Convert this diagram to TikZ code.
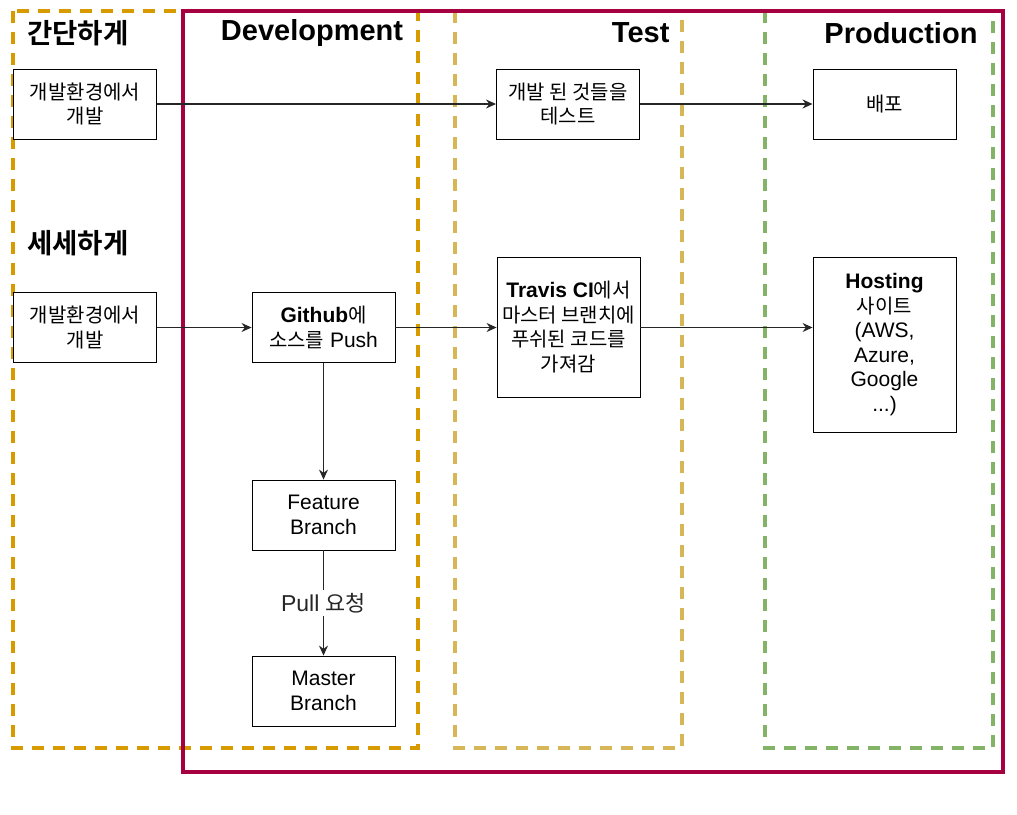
\documentclass[tikz,border=0pt]{standalone}
\usepackage{fontspec}
\setmainfont{Liberation Sans}
\newfontfamily\kr{Noto Sans CJK KR}[Scale=0.95, BoldFont={Noto Sans CJK KR Bold}]
\usetikzlibrary{arrows.meta}

\definecolor{devorange}{HTML}{D79B00}
\definecolor{testyellow}{HTML}{D6B656}
\definecolor{prodgreen}{HTML}{82B366}
\definecolor{crimson}{HTML}{A50040}

\newcommand{\ko}[1]{{\kr #1}}

\tikzset{
    stagebox/.style = {dash pattern=on 12pt off 9pt, line width=3.5pt},
    procbox/.style = {draw, fill=white, line width=0.9pt, inner sep=0pt,
        minimum width=143pt, minimum height=70pt, align=center,
        font=\fontsize{21}{24.5}\selectfont},
    title/.style = {font=\fontsize{29}{32}\selectfont\bfseries},
    flow/.style = {-{Stealth[length=10pt,width=9pt]}, line width=1.3pt, black!85}
}

\begin{document}
\begin{tikzpicture}[x=1pt, y=-1pt]
    \useasboundingbox (0,0) rectangle (1017,814);

    % stages
    \draw[stagebox, devorange] (13,11) rectangle (418,748);
    \draw[stagebox, testyellow] (455,11) rectangle (682,748);
    \draw[stagebox, prodgreen] (765,11) rectangle (993,748);
    \draw[crimson, line width=4.5pt] (183,11) rectangle (1003,772);

    % titles
    \node[title] (simple) at (78,33) {\ko{간단하게}};
    \node[title] (detail) at (78,243) {\ko{세세하게}};
    \node[title] (dev) at (312,33) {Development};
    \node[title, anchor=east] (test) at (673,33) {Test};
    \node[title, anchor=east] (prod) at (981,33) {Production};

    % simple flow
    \node[procbox] (local1) at (85,104) {\ko{개발환경에서}\\\ko{개발}};
    \node[procbox] (check) at (568,104) {\ko{개발 된 것들을}\\\ko{테스트}};
    \node[procbox] (deploy) at (884.5,104) {\ko{배포}};

    % detailed flow
    \node[procbox] (local2) at (85,327.5) {\ko{개발환경에서}\\\ko{개발}};
    \node[procbox] (github) at (323.5,327.5) {\textbf{Github}\ko{에}\\\ko{소스를} Push};
    \node[procbox, minimum height=140pt] (travis) at (568.5,327) {\textbf{Travis CI}\ko{에서}\\\ko{마스터 브랜치에}\\\ko{푸쉬된 코드를}\\\ko{가져감}};
    \node[procbox, minimum height=175pt] (hosting) at (884.5,344.5) {\textbf{Hosting}\\\ko{사이트}\\(AWS,\\Azure,\\Google\\...)};
    \node[procbox] (feature) at (323.5,515) {Feature\\Branch};
    \node[procbox] (master) at (323.5,691) {Master\\Branch};

    \draw[flow] (local1) -- (check);
    \draw[flow] (check) -- (deploy);
    \draw[flow] (local2) -- (github);
    \draw[flow] (github) -- (github -| travis.west);
    \draw[flow] (travis.east |- github) -- (hosting.west |- github);
    \draw[flow] (github) -- (feature);
    \draw[flow] (feature) -- node[fill=white, inner xsep=1pt, font=\fontsize{23}{26}\selectfont] (pullreq) {Pull \ko{요청}} (master);
\end{tikzpicture}
\end{document}
